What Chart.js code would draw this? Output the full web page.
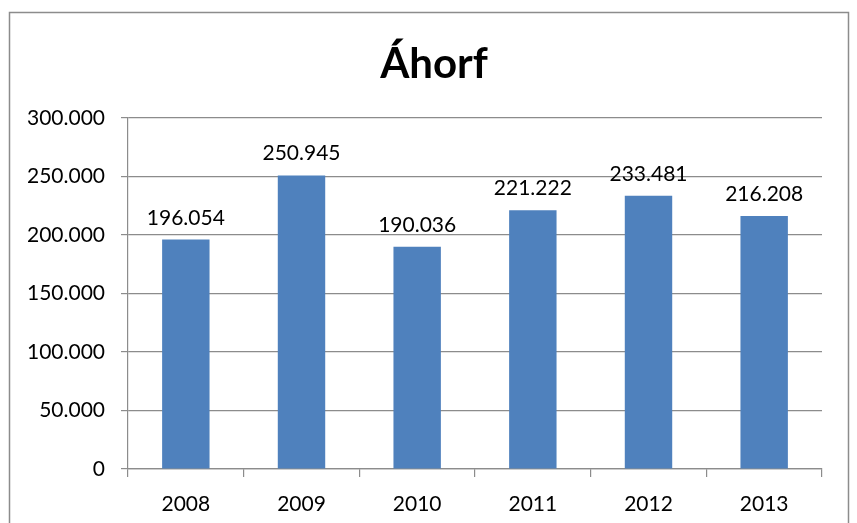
<!DOCTYPE html>
<html>
<head>
<meta charset="utf-8">
<script src="https://cdn.jsdelivr.net/npm/chart.js@4/dist/chart.umd.min.js"></script>
<style>
  html, body { margin: 0; padding: 0; background: #fff; }
  #wrap { width: 857px; height: 523px; }
</style>
</head>
<body>
<div id="wrap"><canvas id="c" width="857" height="523"></canvas></div>
<script>
// gögn
const years = ["2008", "2009", "2010", "2011", "2012", "2013"];
const views = [196054, 250945, 190036, 221222, 233481, 216208];
const chartTitle = "Áhorf";

const FONT = "Lato, 'Liberation Sans', sans-serif";

// 250945 -> "250.945"
function fmt(v) {
  return String(Math.round(v)).replace(/\B(?=(\d{3})+(?!\d))/g, ".");
}

// rammi og titill
const framePlugin = {
  id: "frame",
  beforeDraw(chart) {
    const ctx = chart.ctx;
    ctx.save();
    ctx.strokeStyle = "#8c8c8c";
    ctx.lineWidth = 1.5;
    ctx.beginPath();
    ctx.moveTo(9.5, 523);
    ctx.lineTo(9.5, 12.5);
    ctx.lineTo(848.5, 12.5);
    ctx.lineTo(848.5, 523);
    ctx.stroke();
    ctx.fillStyle = "#000";
    ctx.font = "bold 42px 'Liberation Sans Narrow', " + FONT;
    ctx.textAlign = "center";
    ctx.textBaseline = "alphabetic";
    ctx.fillText(chartTitle, 434, 78);
    ctx.restore();
  }
};

// gildi fyrir ofan súlur
const valueLabels = {
  id: "valueLabels",
  afterDatasetsDraw(chart) {
    const ctx = chart.ctx;
    const meta = chart.getDatasetMeta(0);
    ctx.save();
    ctx.fillStyle = "#000";
    ctx.font = "21px " + FONT;
    ctx.textAlign = "center";
    ctx.textBaseline = "alphabetic";
    meta.data.forEach((bar, i) => {
      ctx.fillText(fmt(views[i]), bar.x, bar.y - 15);
    });
    ctx.restore();
  }
};

new Chart(document.getElementById("c"), {
  type: "bar",
  data: {
    labels: years,
    datasets: [{
      data: views,
      backgroundColor: "#4f81bd",
      borderWidth: 0,
      categoryPercentage: 1,
      barPercentage: 0.41
    }]
  },
  options: {
    responsive: false,
    animation: false,
    layout: { padding: { top: 118, right: 35, left: 0, bottom: 0 } },
    plugins: {
      legend: { display: false },
      title: { display: false },
      tooltip: { enabled: false }
    },
    scales: {
      y: {
        min: 0,
        max: 300000,
        ticks: {
          stepSize: 50000,
          color: "#000",
          font: { family: FONT, size: 21 },
          padding: 16,
          callback: (v) => fmt(v)
        },
        grid: { color: "#8c8c8c", lineWidth: 1.2, tickLength: 7 },
        border: { color: "#8c8c8c", width: 1.2 },
        afterFit(s) { s.width = 128; }
      },
      x: {
        offset: true,
        ticks: {
          color: "#000",
          font: { family: FONT, size: 21 },
          padding: 15
        },
        grid: {
          offset: true,
          drawOnChartArea: false,
          color: "#8c8c8c",
          lineWidth: 1.2,
          tickLength: 8
        },
        border: { color: "#8c8c8c", width: 1.2 },
        afterFit(s) { s.height = 54; }
      }
    }
  },
  plugins: [framePlugin, valueLabels]
});
</script>
</body>
</html>
